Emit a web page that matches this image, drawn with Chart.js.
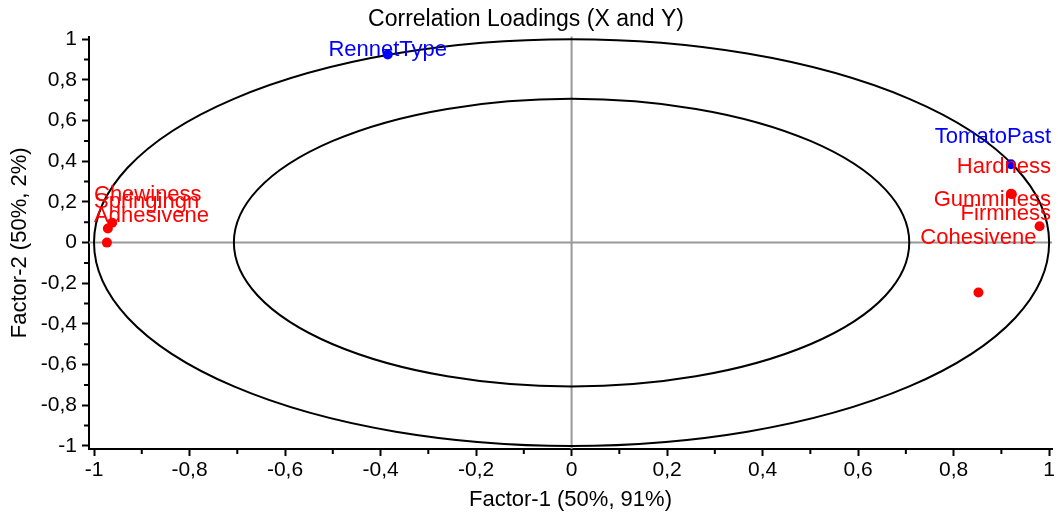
<!DOCTYPE html>
<html>
<head>
<meta charset="utf-8">
<script src="https://cdn.jsdelivr.net/npm/chart.js@4.4.0/dist/chart.umd.min.js"></script>
<style>
  html, body { margin: 0; padding: 0; background: #fff; }
  #wrap { width: 1058px; height: 518px; }
</style>
</head>
<body>
<div id="wrap"><canvas id="chart"></canvas></div>
<script>
// Variáveis X (vermelho) e Y (azul) com seus loadings
const xNames = ['Hardness', 'Gumminess', 'Firmness', 'Cohesivene', 'Chewiness', 'Springingn', 'Adhesivene'];
const xFactor1 = [0.92, 0.922, 0.98, 0.852, -0.962, -0.971, -0.973];
const xFactor2 = [0.24, 0.238, 0.08, -0.245, 0.098, 0.069, 0.0];

const yNames = ['RennetType', 'TomatoPast'];
const yFactor1 = [-0.385, 0.92];
const yFactor2 = [0.925, 0.385];

const tickValues = [-1, -0.8, -0.6, -0.4, -0.2, 0, 0.2, 0.4, 0.6, 0.8, 1];
const minorValues = [-0.9, -0.7, -0.5, -0.3, -0.1, 0.1, 0.3, 0.5, 0.7, 0.9];

// círculos de 50% e 100% da variância explicada
const circleRadii = [1, Math.SQRT1_2];

// deslocamento vertical dos rótulos (px) para evitar sobreposição
const labelShift = {
  Hardness: -27, Gumminess: 6, Firmness: -12, Cohesivene: -54,
  Chewiness: -28, Springingn: -27, Adhesivene: -27,
  RennetType: -5, TomatoPast: -27
};

const FONT = "'Liberation Sans', Arial, sans-serif";
const fmt = v => {
  const r = Math.round(v * 10) / 10;
  if (r === 0) return '0';
  return String(r).replace('.', ',');
};

const toPoints = (names, a, b) => names.map((n, i) => ({ x: a[i], y: b[i], name: n }));

const guides = {
  id: 'guides',
  beforeDatasetsDraw(chart) {
    const { ctx, chartArea, scales: { x, y } } = chart;
    const cx = x.getPixelForValue(0), cy = y.getPixelForValue(0);
    ctx.save();
    ctx.strokeStyle = '#999999';
    ctx.lineWidth = 2;
    ctx.beginPath();
    ctx.moveTo(cx, chartArea.top); ctx.lineTo(cx, chartArea.bottom);
    ctx.moveTo(chartArea.left, cy); ctx.lineTo(chartArea.right, cy);
    ctx.stroke();
    ctx.strokeStyle = '#000';
    ctx.lineWidth = 2;
    circleRadii.forEach(r => {
      const rx = x.getPixelForValue(r) - cx;
      const ry = cy - y.getPixelForValue(r);
      ctx.beginPath();
      ctx.ellipse(cx, cy, rx, ry, 0, 0, Math.PI * 2);
      ctx.stroke();
    });
    ctx.restore();
  },
  afterDraw(chart) {
    const { ctx, chartArea, scales: { x, y } } = chart;
    ctx.save();
    // ticks menores
    ctx.strokeStyle = '#000';
    ctx.lineWidth = 2;
    ctx.beginPath();
    minorValues.forEach(v => {
      const px = x.getPixelForValue(v);
      ctx.moveTo(px, chartArea.bottom); ctx.lineTo(px, chartArea.bottom + 5);
      const py = y.getPixelForValue(v);
      ctx.moveTo(chartArea.left, py); ctx.lineTo(chartArea.left - 5, py);
    });
    ctx.stroke();
    // rótulos dos pontos
    ctx.font = '22px ' + FONT;
    ctx.textBaseline = 'middle';
    ctx.textAlign = 'center';
    chart.data.datasets.forEach(ds => {
      ctx.fillStyle = ds.backgroundColor;
      ds.data.forEach(p => {
        const px = x.getPixelForValue(p.x), py = y.getPixelForValue(p.y);
        const w = ctx.measureText(p.name).width;
        let lx = px;
        lx = Math.max(lx, chartArea.left + 5 + w / 2);
        lx = Math.min(lx, chartArea.right - 1 - w / 2);
        ctx.fillText(p.name, lx, py + (labelShift[p.name] || 0));
      });
    });
    ctx.restore();
  }
};

const axisCommon = {
  type: 'linear',
  border: { display: true, color: '#000', width: 2 },
  grid: { drawOnChartArea: false, drawTicks: true, tickLength: 7, tickColor: '#000', tickWidth: 2 },
  ticks: { color: '#000', font: { family: FONT, size: 21 }, callback: v => fmt(v), autoSkip: false, maxRotation: 0 },
  afterBuildTicks: scale => { scale.ticks = tickValues.map(v => ({ value: v })); }
};

new Chart(document.getElementById('chart'), {
  type: 'scatter',
  data: {
    datasets: [
      { label: 'X', data: toPoints(xNames, xFactor1, xFactor2), backgroundColor: '#ff0000', borderColor: '#ff0000', pointRadius: 5, pointBorderWidth: 0 },
      { label: 'Y', data: toPoints(yNames, yFactor1, yFactor2), backgroundColor: '#0000ff', borderColor: '#0000ff', pointRadius: 5, pointBorderWidth: 0 }
    ]
  },
  options: {
    responsive: true,
    maintainAspectRatio: false,
    animation: false,
    layout: { padding: { left: 0, right: 6, top: 0, bottom: 0 } },
    plugins: {
      legend: { display: false },
      tooltip: { enabled: false },
      title: {
        display: true,
        text: 'Correlation Loadings (X and Y)',
        color: '#000',
        font: { family: FONT, size: 23, weight: 'normal' },
        padding: { top: 6, bottom: 3 }
      }
    },
    scales: {
      x: {
        ...axisCommon,
        min: -1.0105, max: 1.006,
        ticks: { ...axisCommon.ticks, padding: 2 },
        title: { display: true, text: 'Factor-1 (50%, 91%)', color: '#000', font: { family: FONT, size: 22 }, padding: { top: 0, bottom: 5 } },
        afterFit: s => { s.height = 69; }
      },
      y: {
        ...axisCommon,
        min: -1.015, max: 1.013,
        ticks: { ...axisCommon.ticks, padding: 5 },
        title: { display: true, text: 'Factor-2 (50%, 2%)', color: '#000', font: { family: FONT, size: 22 }, padding: { top: 7, bottom: 0 } },
        afterFit: s => { s.width = 89; }
      }
    }
  },
  plugins: [guides]
});
</script>
</body>
</html>
